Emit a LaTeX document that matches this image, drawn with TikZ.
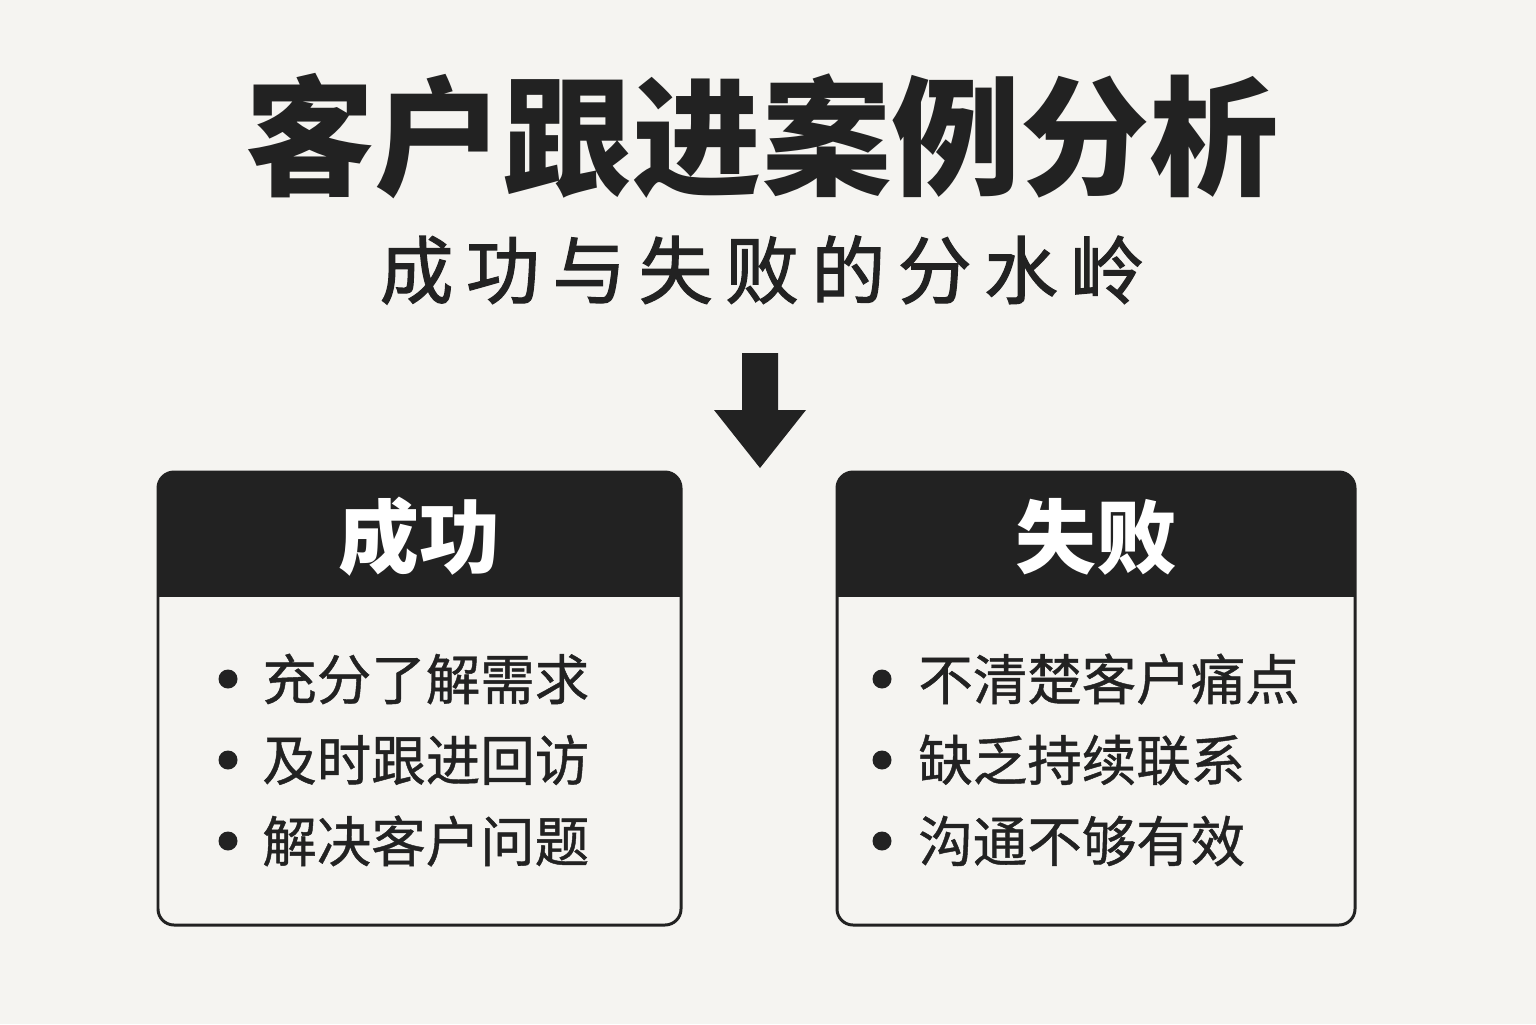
\documentclass[tikz,border=0pt]{standalone}
\usepackage{fontspec}
\newfontfamily\cjk{Noto Sans CJK SC}
\usetikzlibrary{positioning}
\definecolor{ink}{HTML}{222222}
\definecolor{paper}{HTML}{F5F4F1}

\begin{document}
\begin{tikzpicture}[
    card/.style={draw=ink, line width=1.7pt, rounded corners=0.32cm, outer sep=0pt, minimum height=9.06cm},
    headtext/.style={text=white, font=\cjk\bfseries\fontsize{46}{50}\selectfont},
    item/.style={anchor=west, text=ink, inner sep=0pt, font=\cjk\fontsize{31}{35}\selectfont\addfontfeatures{FakeBold=0.8}},
    dot/.style={circle, fill=ink, inner sep=0pt, minimum size=0.38cm}
    ]
    \fill[paper] (0,0) rectangle (30.72,20.48);
    \useasboundingbox (0,0) rectangle (30.72,20.48);

    \node[text=ink, font=\cjk\bfseries\fontsize{73.5}{80}\selectfont] (title) at (15.24,17.76) {客户跟进案例分析};
    \node[text=ink, font=\cjk\fontsize{42}{46}\selectfont\addfontfeatures{LetterSpace=17,FakeBold=1.6}] (subtitle) at (15.24,15.08) {成功与失败的分水岭};

    % big down arrow
    \fill[ink] (14.84,13.42) -- (15.56,13.42) -- (15.56,12.28) -- (16.12,12.28) -- (15.2,11.12) -- (14.28,12.28) -- (14.84,12.28) -- cycle;

    \node[card, minimum width=10.46cm] (win) at (8.39,6.51) {};
    \node[card, minimum width=10.36cm] (fail) at (21.92,6.51) {};
    \foreach \b in {win,fail}{
        \begin{scope}
            \clip[rounded corners=0.32cm] (\b.south west) rectangle (\b.north east);
            \fill[ink] (\b.north west) rectangle ([yshift=-2.5cm]\b.north east);
        \end{scope}
    }
    \node[headtext] (winhead) at ([yshift=-1.3cm]win.north) {成功};
    \node[headtext] (failhead) at ([yshift=-1.3cm]fail.north) {失败};

    \foreach \t [count=\i] in {充分了解需求,及时跟进回访,解决客户问题}{
        \node[dot] (wd\i) at (4.56,{8.52-1.62*\i}) {};
        \node[item] (wi\i) at (5.24,{8.52-1.62*\i}) {\t};
    }
    \foreach \t [count=\i] in {不清楚客户痛点,缺乏持续联系,沟通不够有效}{
        \node[dot] (fd\i) at (17.64,{8.52-1.62*\i}) {};
        \node[item] (fi\i) at (18.36,{8.52-1.62*\i}) {\t};
    }
\end{tikzpicture}
\end{document}
